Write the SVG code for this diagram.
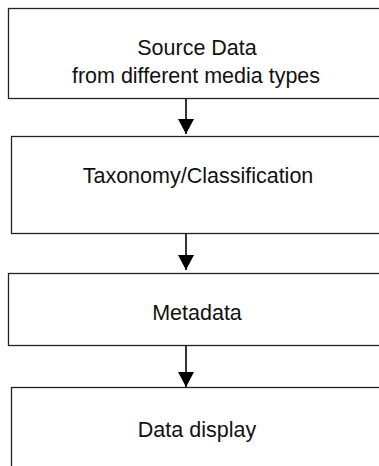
<svg xmlns="http://www.w3.org/2000/svg" width="379" height="466" viewBox="0 0 379 466">
<style>
.box{fill:#fff;stroke:#222;stroke-width:1.3}
.lbl{font-family:"Liberation Sans",Arial,sans-serif;font-size:21.5px;fill:#111;text-anchor:middle}
.conn{stroke:#000;stroke-width:1.6;fill:none}
</style>
<defs>
<marker id="ah" viewBox="0 0 15 16" refX="15" refY="8" markerWidth="15" markerHeight="16" markerUnits="userSpaceOnUse" orient="auto">
<path d="M0 0 L15 8 L0 16 Z" fill="#000"/>
</marker>
</defs>
<rect width="379" height="466" fill="#fff"/>
<g id="source">
<rect class="box" x="8.5" y="8.5" width="390" height="90"/>
<text class="lbl" x="197" y="55">Source Data</text>
<text class="lbl" x="196" y="83">from different media types</text>
</g>
<g id="taxonomy">
<rect class="box" x="11.5" y="136.5" width="390" height="97"/>
<text class="lbl" x="198" y="183">Taxonomy/Classification</text>
</g>
<g id="metadata">
<rect class="box" x="8.5" y="273.5" width="390" height="72"/>
<text class="lbl" x="197" y="320">Metadata</text>
</g>
<g id="display">
<rect class="box" x="11.5" y="387.5" width="390" height="100"/>
<text class="lbl" x="197" y="437">Data display</text>
</g>
<g id="connectors">
<line class="conn" x1="186" y1="99" x2="186" y2="134" marker-end="url(#ah)"/>
<line class="conn" x1="186" y1="234" x2="186" y2="270" marker-end="url(#ah)"/>
<line class="conn" x1="186" y1="346" x2="186" y2="387" marker-end="url(#ah)"/>
</g>
</svg>
